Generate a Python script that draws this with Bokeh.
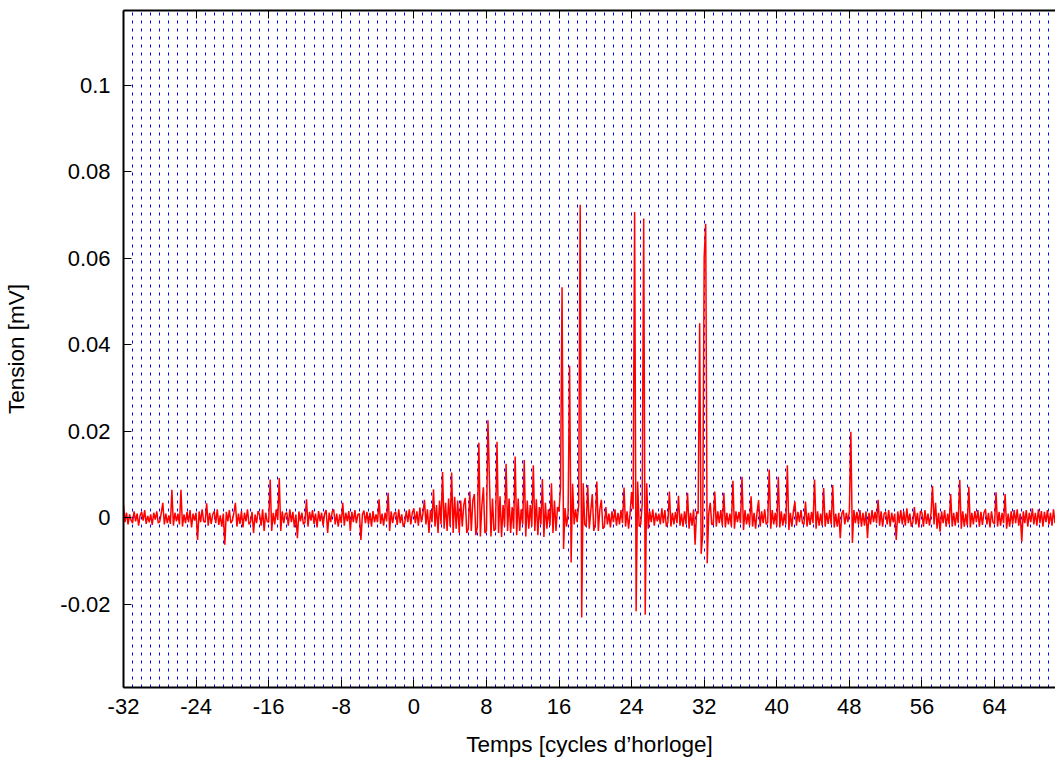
import numpy as np
from bokeh.plotting import figure
from bokeh.models import Range1d, FixedTicker, SingleIntervalTicker, LinearAxis, CustomJSTickFormatter
from bokeh.embed import file_html
from bokeh.resources import INLINE

# Measured trace: 6 samples per clock cycle, starting at cycle -32.
# Values are in units of 1e-4 mV (one row per clock cycle).
T_START = -32
SAMPLES_PER_CYCLE = 6
UNIT = 1e-4

signal_rows = [
    [30, -10, 12, -15, 8, -5],        # -32
    [-12, 15, -8, 10, -18, 6],        # -31
    [14, -6, 18, -14, 5, -10],        # -30
    [8, -16, 12, -4, 15, -12],        # -29
    [-8, 12, 35, -15, 10, -12],       # -28
    [6, -14, 65, -18, 12, -8],        # -27
    [10, -15, 65, -20, 8, -12],       # -26
    [14, -10, 18, -22, 10, -6],       # -25
    [12, -51, 15, -10, 20, -8],       # -24
    [-10, 34, -18, 12, -14, 8],       # -23
    [15, -12, 20, -16, 6, -20],       # -22
    [10, -62, 14, -8, 18, -12],       # -21
    [-6, 12, 35, -20, 10, -14],       # -20
    [16, -22, 12, -8, 20, -15],       # -19
    [-10, 14, -35, 8, -12, 16],       # -18
    [8, -18, 20, -30, 12, -8],        # -17
    [-10, 89, -30, 12, -15, 20],      # -16
    [-5, 92, -30, 15, -12, 10],       # -15
    [12, -18, 20, -10, 14, -22],      # -14
    [8, -47, 15, -8, 12, -15],        # -13
    [-10, 43, -20, 14, -6, 18],       # -12
    [-14, 10, -22, 16, -8, 12],       # -11
    [-18, 10, 18, -35, 12, -10],      # -10
    [14, 20, -15, 10, -20, 8],        # -9
    [-12, 35, -18, 12, -8, 16],       # -8
    [-30, 14, -10, 18, -12, 8],       # -7
    [10, -51, 8, 17, -12, 14],        # -6
    [-15, 12, -20, 16, -10, 8],       # -5
    [-10, 43, -14, 10, -18, 12],      # -4
    [-8, 58, -30, 15, -12, 10],       # -3
    [14, -16, 20, -12, 8, -20],       # -2
    [-12, 17, -10, 20, -15, 12],      # -1
    [22, -12, 15, -18, 24, -10],      # 0
    [10, 42, -15, 20, -35, 18],       # 1
    [-10, 66, -20, 30, -35, 40],      # 2
    [-15, 106, -25, 35, -30, 45],     # 3
    [-20, 105, -35, 49, -25, 40],     # 4
    [-35, 40, -20, 30, 46, -35],      # 5
    [-25, 61, -30, 40, 55, -40],      # 6
    [-20, 174, -43, 30, 71, -35],     # 7
    [-30, 226, 88, -43, 45, -30],     # 8
    [-25, 176, -35, 50, -44, 30],     # 9
    [-20, 125, -30, 45, -35, 25],     # 10
    [-25, 142, -40, 45, -30, 20],     # 11
    [-15, 134, -43, 40, -25, 30],     # 12
    [-20, 122, -30, 43, -40, 25],     # 13
    [-15, 90, -44, 35, -25, 20],      # 14
    [-18, 80, -35, 40, -30, 25],      # 15
    [15, 71, 533, -72, 23, -20],      # 16
    [10, 352, -103, 79, -15, 20],     # 17
    [-10, 30, 724, -230, 80, -15],    # 18
    [-20, 76, -25, 15, 55, -30],      # 19
    [-15, 84, -30, 20, 42, -25],      # 20
    [-20, 25, -15, 10, -22, 15],      # 21
    [-10, 20, -18, 12, -15, 18],      # 22
    [-12, 70, -20, 15, -25, 10],      # 23
    [60, 20, 707, -216, 84, -20],     # 24
    [-15, 30, 692, -224, 80, -25],    # 25
    [15, -10, 20, -18, 12, -8],       # 26
    [10, -15, 22, -12, 18, -20],      # 27
    [-10, 61, -20, 12, -15, 14],      # 28
    [-12, 51, -18, 10, -20, 15],      # 29
    [-15, 58, -25, 12, -18, 20],      # 30
    [-62, 15, 10, 450, -83, -40],     # 31
    [603, 680, -105, 10, 35, -15],    # 32
    [-15, 61, -20, 15, -12, 18],      # 33
    [-18, 58, -22, 12, -15, 10],      # 34
    [-20, 86, -25, 15, -10, 14],      # 35
    [-12, 95, -28, 18, -15, 10],      # 36
    [-18, 50, -20, 12, -25, 15],      # 37
    [41, -20, 15, -12, 20, -15],      # 38
    [-10, 112, -25, 18, -15, 12],     # 39
    [-20, 95, -22, 15, -18, 10],      # 40
    [-15, 122, -28, 12, -20, 16],     # 41
    [38, -18, 14, -10, 18, -12],      # 42
    [-15, 38, -20, 12, -16, 14],      # 43
    [-12, 89, -25, 15, -18, 10],      # 44
    [-18, 69, -20, 12, -14, 18],      # 45
    [-15, 76, -22, 10, -20, 12],      # 46
    [-47, 10, 18, -15, 12, -10],      # 47
    [15, 199, -58, 18, -12, 14],      # 48
    [-15, 18, -20, 12, -18, 15],      # 49
    [-47, 12, -15, 18, -10, 14],      # 50
    [-12, 42, -18, 15, -20, 10],      # 51
    [14, -15, 18, -20, 12, -10],      # 52
    [10, -51, 15, -12, 18, -15],      # 53
    [15, -18, 22, -12, 10, -20],      # 54
    [-10, 25, -15, 12, -22, 16],      # 55
    [12, -20, 18, -14, 10, -18],      # 56
    [10, 74, -15, 35, -25, 12],       # 57
    [-32, 15, -12, 18, -20, 10],      # 58
    [-15, 55, -20, 12, -18, 14],      # 59
    [-12, 88, -25, 15, -20, 10],      # 60
    [-18, 72, -22, 12, -15, 16],      # 61
    [-10, 18, -20, 14, -16, 12],      # 62
    [20, -15, 12, -22, 15, -10],      # 63
    [-14, 59, -20, 14, -18, 12],      # 64
    [-12, 55, -25, 10, -20, 15],      # 65
    [-15, 18, -12, 20, -18, 10],      # 66
    [-55, 15, -12, 18, -20, 12],      # 67
    [-10, 22, -15, 12, -18, 20],      # 68
    [-12, 16, -20, 14, -10, 18],      # 69
    [-15, 12, -18, 20, -12, 10],      # 70
]

x_ticks = [-32, -24, -16, -8, 0, 8, 16, 24, 32, 40, 48, 56, 64]
x_tick_labels = ["-32", "-24", "-16", "-8", "0", "8", "16", "24", "32", "40", "48", "56", "64"]
y_ticks = [-0.02, 0.0, 0.02, 0.04, 0.06, 0.08, 0.1]
y_tick_labels = ["-0.02", "0", "0.02", "0.04", "0.06", "0.08", "0.1"]

x_label = "Temps [cycles d’horloge]"
y_label = "Tension [mV]"

values = np.array(signal_rows, dtype=float).ravel() * UNIT
t = T_START + np.arange(len(values)) / SAMPLES_PER_CYCLE

FONT = "Liberation Sans"

LOOKUP = """
let best = 0;
for (let i = 0; i < tvals.length; i++) {
  if (Math.abs(tvals[i] - tick) < Math.abs(tvals[best] - tick)) best = i;
}
return tlabels[best];
"""

p = figure(width=1055, height=759,
           x_range=Range1d(-32, 70.72), y_range=Range1d(-0.0392, 0.1173),
           output_backend="svg", toolbar_location=None,
           min_border_left=123, min_border_right=0,
           min_border_top=10, min_border_bottom=72)
p.outline_line_color = None
p.background_fill_color = "white"
p.border_fill_color = "white"

p.line(t, values, line_color="#ff0000", line_width=1.5)

# grid: vertical blue dotted lines every clock cycle
p.xgrid.ticker = SingleIntervalTicker(interval=1)
p.xgrid.grid_line_color = "#0000ff"
p.xgrid.grid_line_dash = "3 5"
p.xgrid.grid_line_width = 1
p.ygrid.grid_line_color = None

xa = p.xaxis[0]
ya = p.yaxis[0]

top_axis = LinearAxis()
p.add_layout(top_axis, "above")

for ax in (xa, top_axis):
    ax.ticker = FixedTicker(ticks=x_ticks)
for ax in (xa, ya, top_axis):
    ax.axis_line_width = 2
    ax.axis_line_color = "black"
    ax.major_tick_in = 8
    ax.major_tick_out = 0
    ax.minor_tick_in = 0
    ax.minor_tick_out = 0
    ax.major_tick_line_width = 1
    ax.major_tick_line_color = "black"
    ax.major_label_text_font = FONT
    ax.major_label_text_font_size = "22px"
    ax.major_label_text_color = "black"
    ax.axis_label_text_font = FONT
    ax.axis_label_text_font_size = "22.5px"
    ax.axis_label_text_font_style = "normal"
    ax.axis_label_text_color = "black"

# top border with mirrored ticks only (labels not drawn)
top_axis.major_label_text_color = None
top_axis.major_label_text_font_size = "1px"
top_axis.major_label_standoff = 0

xa.formatter = CustomJSTickFormatter(args=dict(tvals=x_ticks, tlabels=x_tick_labels), code=LOOKUP)
xa.major_label_standoff = 11
xa.axis_label = x_label
xa.axis_label_standoff = 15

ya.ticker = FixedTicker(ticks=y_ticks)
ya.formatter = CustomJSTickFormatter(args=dict(tvals=y_ticks, tlabels=y_tick_labels), code=LOOKUP)
ya.major_label_standoff = 13
ya.axis_label = y_label
ya.axis_label_standoff = 28

open("out.html", "w").write(file_html(p, INLINE))
